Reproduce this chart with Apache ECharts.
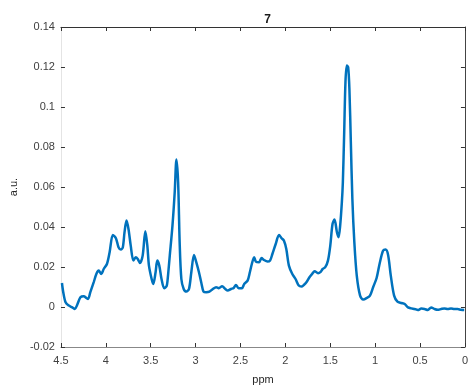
<!DOCTYPE html>
<html>
<head>
<meta charset="utf-8">
<script src="https://cdn.jsdelivr.net/npm/echarts@6/dist/echarts.min.js"></script>
<style>
html,body{margin:0;padding:0;background:#fff;}
#chart{width:471px;height:392px;}
</style>
</head>
<body>
<div id="chart"></div>
<script>
// Chemical shift (ppm) and intensity (a.u.)
var ppm = [4.489,4.475,4.449,4.412,4.375,4.345,4.320,4.283,4.246,4.217,4.198,4.173,4.135,4.106,4.080,4.051,4.024,3.988,3.958,3.922,3.888,3.859,3.833,3.811,3.792,3.770,3.748,3.723,3.693,3.667,3.645,3.620,3.590,3.560,3.538,3.520,3.490,3.472,3.446,3.427,3.405,3.380,3.350,3.324,3.313,3.288,3.258,3.233,3.214,3.195,3.178,3.159,3.133,3.104,3.074,3.048,3.018,2.993,2.963,2.938,2.912,2.882,2.846,2.808,2.772,2.742,2.705,2.669,2.642,2.606,2.576,2.551,2.521,2.484,2.459,2.421,2.396,2.374,2.348,2.329,2.293,2.266,2.238,2.200,2.171,2.145,2.108,2.071,2.042,2.017,1.990,1.961,1.923,1.887,1.851,1.821,1.795,1.766,1.732,1.703,1.674,1.636,1.611,1.585,1.556,1.526,1.500,1.475,1.453,1.426,1.408,1.390,1.371,1.360,1.345,1.331,1.316,1.301,1.287,1.271,1.254,1.232,1.205,1.168,1.132,1.094,1.058,1.022,0.984,0.947,0.911,0.884,0.856,0.826,0.789,0.752,0.707,0.671,0.634,0.597,0.560,0.524,0.486,0.450,0.413,0.376,0.339,0.303,0.265,0.228,0.192,0.155,0.118,0.082,0.044,0.008];
var intensity = [0.0120,0.0075,0.0024,0.0007,-0.0002,-0.0010,0.0010,0.0049,0.0054,0.0045,0.0040,0.0074,0.0124,0.0165,0.0182,0.0165,0.0190,0.0215,0.0274,0.0360,0.0344,0.0299,0.0287,0.0299,0.0374,0.0432,0.0390,0.0307,0.0232,0.0249,0.0240,0.0220,0.0257,0.0379,0.0307,0.0207,0.0140,0.0115,0.0174,0.0232,0.0207,0.0140,0.0094,0.0104,0.0132,0.0257,0.0407,0.0574,0.0737,0.0624,0.0324,0.0140,0.0090,0.0077,0.0090,0.0174,0.0260,0.0224,0.0174,0.0124,0.0077,0.0074,0.0077,0.0090,0.0099,0.0094,0.0104,0.0090,0.0082,0.0090,0.0095,0.0110,0.0094,0.0094,0.0115,0.0132,0.0174,0.0215,0.0249,0.0227,0.0224,0.0245,0.0235,0.0227,0.0232,0.0265,0.0315,0.0360,0.0344,0.0332,0.0290,0.0207,0.0165,0.0140,0.0107,0.0102,0.0110,0.0124,0.0149,0.0165,0.0179,0.0169,0.0174,0.0190,0.0199,0.0232,0.0307,0.0415,0.0437,0.0374,0.0349,0.0407,0.0524,0.0624,0.0874,0.1124,0.1207,0.1199,0.1090,0.0824,0.0540,0.0324,0.0157,0.0057,0.0037,0.0045,0.0057,0.0100,0.0145,0.0224,0.0282,0.0287,0.0260,0.0157,0.0057,0.0027,0.0020,0.0015,-0.0002,-0.0007,-0.0010,-0.0015,-0.0008,-0.0010,-0.0015,-0.0002,-0.0010,-0.0014,-0.0010,-0.0007,-0.0010,-0.0007,-0.0010,-0.0010,-0.0014,-0.0015];
var xTicks = [4.5,4,3.5,3,2.5,2,1.5,1,0.5,0];
var yTicks = [-0.02,0,0.02,0.04,0.06,0.08,0.1,0.12,0.14];

var data = ppm.map(function(p,i){return [p,intensity[i]];});
var FONT = 'Liberation Sans, Arial, sans-serif';
var chart = echarts.init(document.getElementById('chart'), null, {renderer:'canvas'});

function xAx(pos, show, color){
  return {
    type:'value', position:pos, inverse:true,
    min:xTicks[xTicks.length-1], max:xTicks[0], interval:0.5,
    axisLine:{show:true, onZero:false, lineStyle:{color:color, width:1}},
    axisTick:{show:true, inside:true, length:4, lineStyle:{color:'#333'}},
    axisLabel:{show:show, margin:8, color:'#404040', fontSize:11, fontFamily:FONT,
      formatter:function(v){return String(parseFloat(v.toFixed(2)));}},
    splitLine:{show:false},
    name: show ? 'ppm' : '', nameLocation:'middle', nameGap:27,
    nameTextStyle:{color:'#262626', fontSize:11, fontFamily:FONT}
  };
}
function yAx(pos, show, color){
  return {
    type:'value', position:pos,
    min:yTicks[0], max:yTicks[yTicks.length-1], interval:0.02,
    axisLine:{show:true, onZero:false, lineStyle:{color:color, width:1}},
    axisTick:{show:true, inside:true, length:4, lineStyle:{color:'#333'}},
    axisLabel:{show:show, margin:6, color:'#404040', fontSize:11, fontFamily:FONT,
      formatter:function(v){return String(parseFloat(v.toFixed(2)));}},
    splitLine:{show:false},
    name: show ? 'a.u.' : '', nameLocation:'middle', nameGap:38,
    nameTextStyle:{color:'#262626', fontSize:11, fontFamily:FONT}
  };
}

chart.setOption({
  animation:false,
  backgroundColor:'#fff',
  title:{text:'7', left:262.5, top:9, textAlign:'center',
    textStyle:{fontSize:12, fontWeight:'bold', color:'#1a1a1a', fontFamily:FONT}},
  grid:{left:59, right:5, top:27, bottom:45, containLabel:false},
  xAxis:[xAx('bottom', true, '#888'), xAx('top', false, '#333')],
  yAxis:[yAx('left', true, '#e4e4e4'), yAx('right', false, '#444')],
  series:[{
    type:'line', data:data, xAxisIndex:0, yAxisIndex:0,
    showSymbol:false, smooth:0.3,
    lineStyle:{color:'#0072BD', width:2.5},
    clip:true
  }]
});
</script>
</body>
</html>
